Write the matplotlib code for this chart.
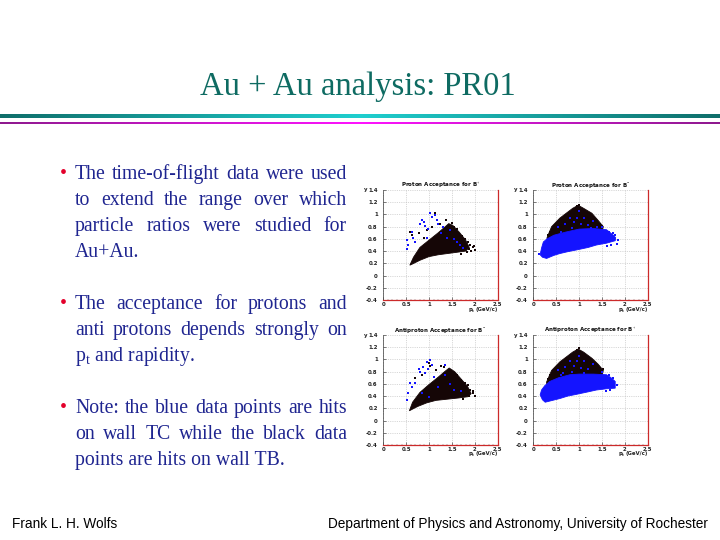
import matplotlib
matplotlib.use("Agg")
import matplotlib.pyplot as plt
import numpy as np
from matplotlib.colors import LinearSegmentedColormap
from matplotlib.ticker import FuncFormatter, MultipleLocator

plt.rcParams['mathtext.fontset'] = 'custom'
plt.rcParams['mathtext.rm'] = 'Liberation Serif'
plt.rcParams['mathtext.it'] = 'Liberation Serif:italic'

# ---------------- slide text ----------------
TITLE = "Au + Au analysis: PR01"
BULLETS = [
    ["The time-of-flight data were used",
     "to extend the range over which",
     "particle ratios were studied for",
     "Au+Au."],
    ["The acceptance for protons and",
     "anti protons depends strongly on",
     r"p$_{\mathrm{t}}$ and rapidity."],
    ["Note: the blue data points are hits",
     "on wall TC while the black data",
     "points are hits on wall TB."],
]
FOOT_LEFT = "Frank L. H. Wolfs"
FOOT_RIGHT = "Department of Physics and Astronomy, University of Rochester"

PANEL_TITLES = [r"Proton Acceptance for B$^{+}$", r"Proton Acceptance for B$^{-}$",
                r"Antiproton Acceptance for B$^{-}$", r"Antiproton Acceptance for B$^{+}$"]
X_TICKS = [0, 0.5, 1, 1.5, 2, 2.5]
Y_TICKS = [-0.4, -0.2, 0, 0.2, 0.4, 0.6, 0.8, 1.0, 1.2, 1.4]
X_LABEL = "p"
X_LABEL_SUB = "t"
X_LABEL_UNIT = "(GeV/c)"

# ---------------- panel 1: proton B+ ----------------
P1_CORE_PT = [0.58, 0.66, 0.80, 1.00, 1.20, 1.34, 1.43, 1.52, 1.66, 1.80, 1.88, 1.80, 1.60, 1.40, 1.20, 1.00, 0.80, 0.64]
P1_CORE_Y  = [0.17, 0.30, 0.46, 0.58, 0.70, 0.79, 0.85, 0.82, 0.71, 0.58, 0.46, 0.40, 0.38, 0.36, 0.34, 0.31, 0.25, 0.19]
P1_BLK_PT = [0.58, 0.62, 0.77, 0.95, 1.13, 1.06, 1.24, 1.38, 1.90, 1.95, 2.00, 1.92, 1.85, 1.78, 1.72, 1.98, 1.60, 1.55, 0.70, 0.88, 1.70, 1.82, 1.88, 1.50]
P1_BLK_Y  = [0.72, 0.66, 0.69, 0.75, 1.02, 0.80, 0.85, 0.91, 0.50, 0.46, 0.42, 0.40, 0.55, 0.60, 0.65, 0.48, 0.76, 0.79, 0.55, 0.62, 0.36, 0.38, 0.44, 0.86]
P1_BLU_PT = [1.02, 1.06, 0.80, 0.84, 0.91, 1.17, 1.20, 0.51, 0.55, 0.62, 0.64, 0.51, 0.98, 1.13, 0.70, 0.90, 1.30, 1.45, 1.55, 1.62, 1.75, 1.40, 1.25, 0.95, 1.68]
P1_BLU_Y  = [1.02, 0.96, 0.85, 0.91, 0.81, 0.91, 0.84, 0.58, 0.50, 0.72, 0.61, 0.43, 0.77, 0.99, 0.55, 0.88, 0.80, 0.75, 0.60, 0.55, 0.45, 0.62, 0.70, 0.62, 0.50]

# ---------------- panel 2: proton B- ----------------
P2_BLK_CORE_PT = [0.30, 0.40, 0.58, 0.72, 0.86, 0.98, 1.10, 1.28, 1.42, 1.53, 1.50, 1.00, 0.50, 0.30]
P2_BLK_CORE_Y  = [0.62, 0.80, 0.94, 1.02, 1.10, 1.15, 1.10, 1.02, 0.90, 0.80, 0.70, 0.70, 0.60, 0.55]
P2_BLU_CORE_PT = [0.15, 0.20, 0.29, 0.45, 0.58, 0.75, 0.95, 1.20, 1.38, 1.60, 1.79, 1.80, 1.75, 1.60, 1.31, 1.00, 0.70, 0.45, 0.30, 0.22, 0.18]
P2_BLU_CORE_Y  = [0.34, 0.30, 0.28, 0.33, 0.36, 0.39, 0.42, 0.46, 0.50, 0.53, 0.57, 0.62, 0.66, 0.75, 0.77, 0.76, 0.71, 0.66, 0.60, 0.55, 0.45]
P2_BLU_PT = [0.55, 0.70, 0.85, 0.95, 1.00, 1.05, 1.20, 0.90, 0.80, 1.30, 0.60, 1.10, 1.65, 1.75, 1.85, 1.50, 1.82, 0.12, 1.25, 1.40, 1.70, 1.62, 1.78]
P2_BLU_Y  = [0.80, 0.85, 0.78, 0.95, 1.05, 0.85, 0.82, 0.88, 0.95, 0.90, 0.72, 0.95, 0.72, 0.70, 0.58, 0.79, 0.52, 0.36, 0.78, 0.80, 0.50, 0.48, 0.66]
P2_BLK_PT = [0.33, 0.36, 1.00, 0.95, 1.45, 1.50]
P2_BLK_Y  = [0.66, 0.72, 1.16, 1.14, 0.84, 0.81]

# ---------------- panel 3: antiproton B- ----------------
P3_CORE_PT = [0.57, 0.64, 0.80, 1.00, 1.20, 1.34, 1.44, 1.56, 1.70, 1.84, 1.92, 1.85, 1.65, 1.40, 1.15, 0.95, 0.75, 0.62]
P3_CORE_Y  = [0.16, 0.30, 0.46, 0.59, 0.71, 0.80, 0.86, 0.80, 0.68, 0.56, 0.44, 0.39, 0.37, 0.35, 0.33, 0.29, 0.23, 0.18]
P3_BLK_PT = [1.00, 1.02, 1.25, 1.32, 0.70, 0.85, 1.95, 2.00, 1.90, 1.85, 0.62, 1.78, 1.70, 1.60, 1.97, 1.15, 1.75, 1.88]
P3_BLK_Y  = [0.95, 0.90, 0.90, 0.87, 0.70, 0.75, 0.45, 0.41, 0.50, 0.58, 0.55, 0.62, 0.66, 0.75, 0.48, 0.82, 0.36, 0.40]
P3_BLU_PT = [0.95, 1.02, 1.06, 0.77, 0.80, 0.87, 0.62, 0.58, 0.51, 0.98, 1.35, 0.70, 0.55, 0.92, 1.10, 1.20, 1.45, 1.55, 1.70, 1.35, 0.85, 1.00]
P3_BLU_Y  = [0.96, 0.99, 0.91, 0.85, 0.80, 0.88, 0.55, 0.61, 0.34, 0.85, 0.91, 0.62, 0.45, 0.78, 0.72, 0.55, 0.60, 0.50, 0.48, 0.75, 0.45, 0.38]

# ---------------- panel 4: antiproton B+ ----------------
P4_BLK_CORE_PT = [0.29, 0.40, 0.58, 0.72, 0.86, 0.98, 1.10, 1.28, 1.42, 1.53, 1.50, 1.00, 0.50, 0.30]
P4_BLK_CORE_Y  = [0.63, 0.82, 0.96, 1.04, 1.12, 1.17, 1.12, 1.02, 0.92, 0.82, 0.72, 0.70, 0.60, 0.55]
P4_BLU_CORE_PT = [0.15, 0.20, 0.26, 0.42, 0.58, 0.75, 0.95, 1.20, 1.38, 1.60, 1.79, 1.79, 1.70, 1.60, 1.31, 1.00, 0.80, 0.55, 0.36, 0.25, 0.18]
P4_BLU_CORE_Y  = [0.42, 0.34, 0.30, 0.33, 0.36, 0.40, 0.43, 0.47, 0.50, 0.52, 0.53, 0.64, 0.70, 0.75, 0.76, 0.76, 0.75, 0.70, 0.64, 0.57, 0.50]
P4_BLU_PT = [0.55, 0.70, 0.85, 0.95, 1.00, 1.05, 1.20, 0.90, 0.80, 1.30, 0.60, 1.10, 1.65, 1.75, 1.82, 1.50, 1.10, 0.65, 1.68, 1.58]
P4_BLU_Y  = [0.82, 0.88, 0.80, 0.97, 1.06, 0.86, 0.84, 0.90, 0.97, 0.92, 0.74, 0.98, 0.74, 0.70, 0.58, 0.79, 0.78, 0.78, 0.50, 0.49]
P4_BLK_PT = [0.32, 0.36, 1.00, 0.95, 1.45, 1.52]
P4_BLK_Y  = [0.68, 0.74, 1.18, 1.16, 0.86, 0.84]

PANELS = [
    dict(title=PANEL_TITLES[0], cores=[(P1_CORE_PT, P1_CORE_Y, 'k')],
         pts=[(P1_BLK_PT, P1_BLK_Y, 'k'), (P1_BLU_PT, P1_BLU_Y, 'b')]),
    dict(title=PANEL_TITLES[1], cores=[(P2_BLK_CORE_PT, P2_BLK_CORE_Y, 'k'), (P2_BLU_CORE_PT, P2_BLU_CORE_Y, 'b')],
         pts=[(P2_BLK_PT, P2_BLK_Y, 'k'), (P2_BLU_PT, P2_BLU_Y, 'b')]),
    dict(title=PANEL_TITLES[2], cores=[(P3_CORE_PT, P3_CORE_Y, 'k')],
         pts=[(P3_BLK_PT, P3_BLK_Y, 'k'), (P3_BLU_PT, P3_BLU_Y, 'b')]),
    dict(title=PANEL_TITLES[3], cores=[(P4_BLK_CORE_PT, P4_BLK_CORE_Y, 'k'), (P4_BLU_CORE_PT, P4_BLU_CORE_Y, 'b')],
         pts=[(P4_BLK_PT, P4_BLK_Y, 'k'), (P4_BLU_PT, P4_BLU_Y, 'b')]),
]

COLORS = {'k': '#150606', 'b': '#1414ff'}
TEAL = '#0e6b62'
NAVY = '#1f2590'
RED = '#e3002b'

W, H = 720, 540
fig = plt.figure(figsize=(7.2, 5.4), dpi=100)
fig.patch.set_facecolor('white')
renderer = fig.canvas.get_renderer()

def fx(x):
    return x / W

def fy(y):
    return 1 - y / H

# title
fig.text(fx(358), fy(95), TITLE, family='Liberation Serif', fontsize=23.5,
         color=TEAL, ha='center', va='baseline')

# gradient bands
def band(y0, y1, c_end, c_mid):
    ax = fig.add_axes([0, fy(y1), 1, (y1 - y0) / H])
    cmap = LinearSegmentedColormap.from_list('g', [c_end, c_mid, c_end])
    ax.imshow(np.linspace(0, 1, 256)[None, :], aspect='auto', cmap=cmap,
              extent=[0, 1, 0, 1])
    ax.set_axis_off()

band(114, 118.5, '#0f6e6a', '#1fcfcf')
band(121.5, 124, '#8e1a8e', '#ff14ff')

# bullet text (justified)
LEFT, RIGHT = 75, 347
FS = 14.2
BASELINES = [[179, 205, 231, 257], [309, 335, 361], [413, 439, 465]]

def draw_line(line, yb, justify):
    if not justify:
        fig.text(fx(LEFT), fy(yb), line, family='Liberation Serif', fontsize=FS,
                 color=NAVY, ha='left', va='baseline')
        return
    words = line.split(' ')
    texts, widths = [], []
    for wd in words:
        t = fig.text(0, fy(yb), wd, family='Liberation Serif', fontsize=FS,
                     color=NAVY, ha='left', va='baseline')
        widths.append(t.get_window_extent(renderer).width)
        texts.append(t)
    gap = (RIGHT - LEFT - sum(widths)) / (len(words) - 1)
    x = LEFT
    for t, w_ in zip(texts, widths):
        t.set_x(fx(x))
        x += w_ + gap

for lines, bases in zip(BULLETS, BASELINES):
    fig.text(fx(60), fy(bases[0]), u"\u2022", family='Liberation Serif', fontsize=FS,
             color=RED, ha='left', va='baseline')
    for i, (ln, yb) in enumerate(zip(lines, bases)):
        draw_line(ln, yb, justify=(i < len(lines) - 1))

# footer
fig.text(fx(12), fy(528), FOOT_LEFT, family='Liberation Sans', fontsize=9.8,
         color='black', ha='left', va='baseline')
fig.text(fx(708), fy(528), FOOT_RIGHT, family='Liberation Sans', fontsize=9.8,
         color='black', ha='right', va='baseline')

# scatter panels
AX_POS = [(383.3, 497.7, 190, 300), (533.3, 647.7, 190, 300),
          (383.3, 497.7, 335, 445), (533.3, 647.7, 335, 445)]
TFS = 3.9
fmt = FuncFormatter(lambda v, p: '%g' % round(v, 2))

def xlabel(x_right, y_base):
    kw = dict(color='#222222', fontweight='bold', va='baseline')
    t_unit = fig.text(fx(x_right), fy(y_base), X_LABEL_UNIT, fontsize=TFS, ha='right', **kw)
    x0 = t_unit.get_window_extent(renderer).x0
    t_sub = fig.text(fx(x0 - 1.2), fy(y_base + 1.0), X_LABEL_SUB, fontsize=TFS * 0.7, ha='right', **kw)
    x1 = t_sub.get_window_extent(renderer).x0
    fig.text(fx(x1 - 0.1), fy(y_base), X_LABEL, fontsize=TFS, ha='right', **kw)

for panel, (x0, x1, y0, y1) in zip(PANELS, AX_POS):
    ax = fig.add_axes([fx(x0), fy(y1), (x1 - x0) / W, (y1 - y0) / H])
    ax.set_xlim(0, 2.5)
    ax.set_ylim(-0.4, 1.4)
    ax.set_xticks(X_TICKS)
    ax.set_yticks(Y_TICKS)
    ax.xaxis.set_major_formatter(fmt)
    ax.yaxis.set_major_formatter(fmt)
    ax.xaxis.set_minor_locator(MultipleLocator(0.1))
    ax.yaxis.set_minor_locator(MultipleLocator(0.05))
    ax.tick_params(which='major', direction='in', length=2.2, width=0.4,
                   labelsize=TFS, pad=1.4, colors='#222222')
    ax.tick_params(axis='y', which='major', pad=4.0)
    ax.tick_params(which='minor', direction='in', length=1.0, width=0.3, colors='#555555')
    for lab in ax.get_xticklabels() + ax.get_yticklabels():
        lab.set_fontweight('bold')
    ax.grid(True, which='major', ls=(0, (2, 2)), lw=0.4, color='#b8b8b8')
    ax.spines['top'].set_visible(False)
    ax.spines['left'].set_color('#444444')
    ax.spines['left'].set_linewidth(0.5)
    for s in ('bottom', 'right'):
        ax.spines[s].set_color('#cc2a2a')
        ax.spines[s].set_linewidth(0.9)
    ax.set_axisbelow(True)
    for xs, ys, c in panel['cores']:
        ax.fill(xs, ys, color=COLORS[c], lw=0.6, ec=COLORS[c], zorder=3)
    for xs, ys, c in panel['pts']:
        ax.scatter(xs, ys, s=0.7, marker='s', color=COLORS[c], lw=0, zorder=4)
    ax.set_title(panel['title'], fontsize=4.0, fontweight='bold', pad=2.5,
                 color='#111111')
    xlabel(x1, y1 + 10.5)
    ax.text(-0.14, 1.0, 'y', transform=ax.transAxes, fontsize=TFS,
            ha='right', va='center', color='#222222', fontweight='bold')

fig.savefig('out.png', dpi=100, facecolor='white')
